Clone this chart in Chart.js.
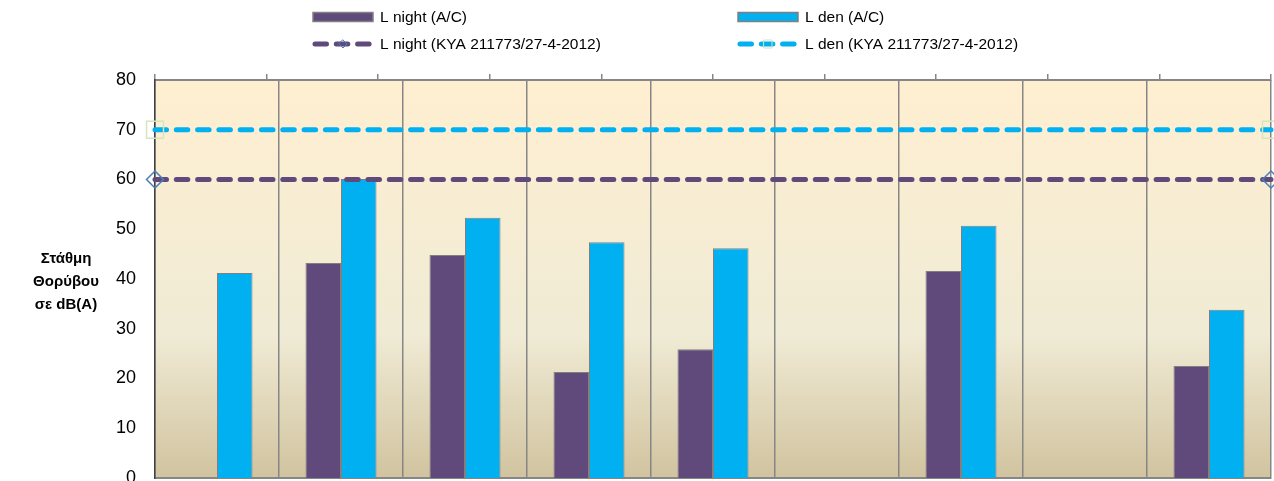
<!DOCTYPE html>
<html>
<head>
<meta charset="utf-8">
<script src="https://cdn.jsdelivr.net/npm/chart.js@4/dist/chart.umd.min.js"></script>
<style>
  html, body { margin: 0; padding: 0; background: #fff; overflow: hidden; }
</style>
</head>
<body>
<canvas id="noiseChart" width="1274" height="481"></canvas>
<script>
// measurement positions (axis labels are cut off in the picture)
const positions = ["Θέση 1", "Θέση 2", "Θέση 3", "Θέση 4", "Θέση 5", "Θέση 6", "Θέση 7", "Θέση 8", "Θέση 9"];
const lNight = [null, 43.2, 44.8, 21.3, 25.9, null, 41.6, null, 22.5];
const lDen = [41.2, 60.1, 52.3, 47.4, 46.2, null, 50.7, null, 33.8];

// limits from KYA 211773/27-4-2012, plotted on the secondary (top) axis
const limitTicks = ["0", "1", "2", "3", "4", "5", "6", "7", "8", "9", "10"];
const lNightLimit = [60, 60, 60, 60, 60, 60, 60, 60, 60, 60, 60];
const lDenLimit = [70, 70, 70, 70, 70, 70, 70, 70, 70, 70, 70];

const yTicks = [0, 10, 20, 30, 40, 50, 60, 70, 80];
const yTitle = ["Στάθμη", "Θορύβου", "σε dB(A)"];

const PURPLE = "#604A7B";
const BLUE = "#00B0F0";
const GRID = "#868686";
const FONT = "'Liberation Sans', Arial, sans-serif";

// chart.js 4.5 splits bar groups per x axis even when only lines sit on the
// second axis, which halves the bars -> count only the bar axis
if (Chart.BarController.prototype._getAxisCount) {
  Chart.BarController.prototype._getAxisCount = function () { return 1; };
}

// only the end points of the limit lines carry a marker
const endMarkers = (arr, r) => arr.map((v, i) => (i === 0 || i === arr.length - 1 ? r : 0));

// parchment gradient behind the plot area
const plotBackground = {
  id: "plotBackground",
  beforeDraw(chart) {
    const { ctx, chartArea: a } = chart;
    const g = ctx.createLinearGradient(0, a.top, 0, a.bottom);
    g.addColorStop(0, "#FFEFD1");
    g.addColorStop(0.64, "#F0EBD5");
    g.addColorStop(1, "#D1C39F");
    ctx.save();
    ctx.fillStyle = g;
    ctx.fillRect(a.left, a.top, a.right - a.left, a.bottom - a.top);
    ctx.restore();
  },
};

// horizontal y-axis title + two column legend
const extras = {
  id: "extras",
  afterDraw(chart) {
    const ctx = chart.ctx;
    ctx.save();
    ctx.fillStyle = "#000";
    ctx.font = "bold 15px " + FONT;
    ctx.textAlign = "center";
    ctx.textBaseline = "middle";
    yTitle.forEach((t, i) => ctx.fillText(t, 66, 259 + i * 23));

    const items = chart.data.datasets;
    const cols = [313, 738];
    const rows = [17, 44];
    ctx.font = "15.5px " + FONT;
    ctx.textAlign = "left";
    items.forEach((ds, i) => {
      const x = cols[i % 2];
      const y = rows[Math.floor(i / 2)];
      if (ds.type === "bar") {
        ctx.fillStyle = ds.backgroundColor;
        ctx.strokeStyle = "#808080";
        ctx.lineWidth = 1.5;
        ctx.fillRect(x, y - 4.5, 60, 9);
        ctx.strokeRect(x, y - 4.5, 60, 9);
      } else {
        ctx.strokeStyle = ds.borderColor;
        ctx.lineWidth = 5;
        ctx.lineCap = "round";
        ctx.setLineDash([11.5, 9.8]);
        ctx.beginPath();
        ctx.moveTo(x + 2, y);
        ctx.lineTo(x + 60, y);
        ctx.stroke();
        ctx.setLineDash([]);
        ctx.lineWidth = 1;
        ctx.strokeStyle = ds.pointBorderColor;
        const mx = x + 30;
        ctx.beginPath();
        if (ds.pointStyle === "rectRot") {
          ctx.moveTo(mx, y - 4); ctx.lineTo(mx + 4, y); ctx.lineTo(mx, y + 4); ctx.lineTo(mx - 4, y); ctx.closePath();
        } else {
          ctx.rect(mx - 4, y - 4, 8, 8);
        }
        ctx.stroke();
      }
      ctx.fillStyle = "#000";
      ctx.fillText(ds.label, x + 67, y + 1);
    });
    ctx.restore();
  },
};

new Chart(document.getElementById("noiseChart"), {
  type: "bar",
  data: {
    labels: positions,
    datasets: [
      {
        type: "bar",
        label: "L night (A/C)",
        data: lNight,
        backgroundColor: PURPLE,
        borderColor: "#808080",
        borderWidth: 1,
        categoryPercentage: 0.573,
        barPercentage: 1,
        order: 2,
      },
      {
        type: "bar",
        label: "L den (A/C)",
        data: lDen,
        backgroundColor: BLUE,
        borderColor: "#808080",
        borderWidth: 1,
        categoryPercentage: 0.573,
        barPercentage: 1,
        order: 2,
      },
      {
        type: "line",
        label: "L night (KYA 211773/27-4-2012)",
        data: lNightLimit,
        xAxisID: "x2",
        borderColor: PURPLE,
        borderWidth: 5,
        borderDash: [11.5, 9.8],
        borderCapStyle: "round",
        pointStyle: "rectRot",
        pointRadius: endMarkers(lNightLimit, 8.5),
        pointBackgroundColor: "rgba(0,0,0,0)",
        pointBorderColor: "#4A7EBB",
        pointBorderWidth: 1.5,
        clip: false,
        order: 0,
      },
      {
        type: "line",
        label: "L den (KYA 211773/27-4-2012)",
        data: lDenLimit,
        xAxisID: "x2",
        borderColor: BLUE,
        borderWidth: 5,
        borderDash: [11.5, 9.8],
        borderCapStyle: "round",
        pointStyle: "rect",
        pointRadius: endMarkers(lDenLimit, 12),
        pointBackgroundColor: "rgba(0,0,0,0)",
        pointBorderColor: "#D7E4BD",
        pointBorderWidth: 1.5,
        clip: false,
        order: 0,
      },
    ],
  },
  options: {
    responsive: false,
    animation: false,
    layout: { autoPadding: false, padding: { top: 74, right: 3, bottom: 3, left: 0 } },
    plugins: { legend: { display: false }, tooltip: { enabled: false } },
    scales: {
      x: {
        type: "category",
        offset: true,
        grid: { offset: true, color: GRID, lineWidth: 1.5, drawTicks: false },
        border: { color: GRID, width: 2 },
        ticks: { display: false },
      },
      x2: {
        type: "category",
        position: "top",
        labels: limitTicks,
        offset: false,
        grid: { offset: false, drawOnChartArea: false, color: GRID, lineWidth: 1.5, tickLength: 6 },
        border: { color: GRID, width: 2 },
        ticks: { display: false },
      },
      y: {
        min: 0,
        max: 80,
        afterFit: (s) => { s.width = 155; s.paddingTop = 0; s.paddingBottom = 0; },
        afterBuildTicks: (s) => { s.ticks = yTicks.map((v) => ({ value: v })); },
        grid: { display: false, drawTicks: false },
        border: { color: "#404040", width: 1.5 },
        ticks: { color: "#000", padding: 19, font: { family: FONT, size: 18 } },
      },
    },
  },
  plugins: [plotBackground, extras],
});
</script>
</body>
</html>
